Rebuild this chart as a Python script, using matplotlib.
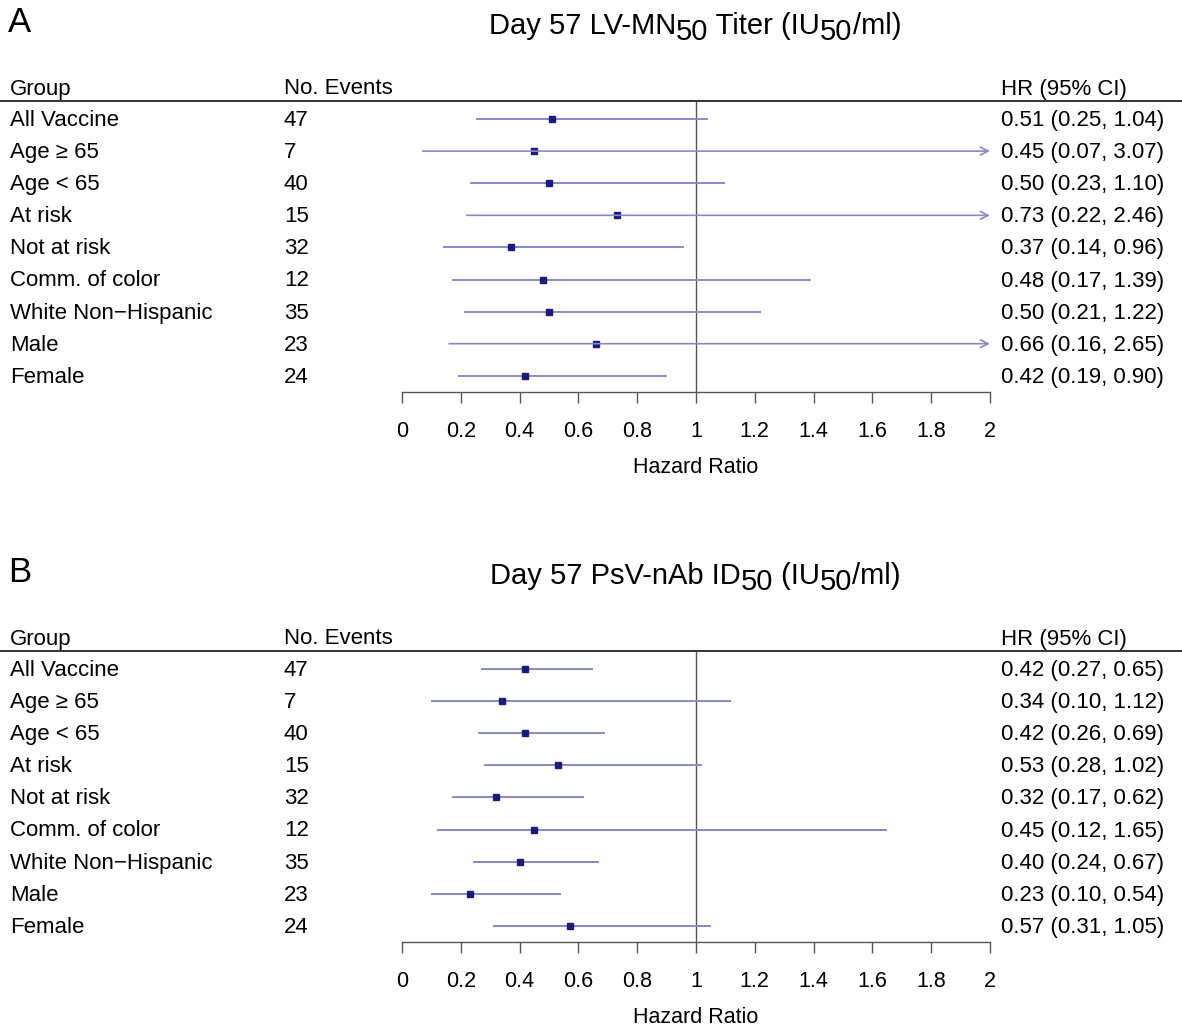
import numpy as np
import matplotlib
matplotlib.use("Agg")
import matplotlib.pyplot as plt
from matplotlib.lines import Line2D

plt.rcParams['font.family'] = ['Liberation Sans', 'DejaVu Sans']

groups = ["All Vaccine", "Age \u2265 65", "Age < 65", "At risk", "Not at risk",
          "Comm. of color", "White Non\u2212Hispanic", "Male", "Female"]
events = [47, 7, 40, 15, 32, 12, 35, 23, 24]

hr_a = [0.51, 0.45, 0.50, 0.73, 0.37, 0.48, 0.50, 0.66, 0.42]
lo_a = [0.25, 0.07, 0.23, 0.22, 0.14, 0.17, 0.21, 0.16, 0.19]
hi_a = [1.04, 3.07, 1.10, 2.46, 0.96, 1.39, 1.22, 2.65, 0.90]

hr_b = [0.42, 0.34, 0.42, 0.53, 0.32, 0.45, 0.40, 0.23, 0.57]
lo_b = [0.27, 0.10, 0.26, 0.28, 0.17, 0.12, 0.24, 0.10, 0.31]
hi_b = [0.65, 1.12, 0.69, 1.02, 0.62, 1.65, 0.67, 0.54, 1.05]

ticks = np.arange(0, 2.01, 0.2)
tick_labels = ["0", "0.2", "0.4", "0.6", "0.8", "1", "1.2", "1.4", "1.6", "1.8", "2"]

W, H = 1182, 1026
fig = plt.figure(figsize=(W / 100, H / 100), dpi=100)

ci_col = "#8a8ac8"
pt_col = "#1c1c78"
fs = 16


def fx(px):
    return px / W


def fy(py):
    return 1 - py / H


def panel(letter, title_parts, hr, lo, hi, top):
    # top = pixel y of the header rule
    row0 = top + 18
    step = 32.1
    axis_y = top + 291
    ax = fig.add_axes([fx(402), fy(axis_y), fx(990) - fx(402), (axis_y - top) / H])
    ax.set_xlim(0, 2)
    # rows sit at 0..8 counting down
    ax.set_ylim((axis_y - row0) / step, -(row0 - top) / step)

    for s in ["left", "top", "right"]:
        ax.spines[s].set_visible(False)
    ax.spines["bottom"].set_color("#555555")
    ax.spines["bottom"].set_linewidth(1.0)
    ax.set_yticks([])
    ax.set_xticks(ticks)
    ax.set_xticklabels(tick_labels, fontsize=15.5)
    ax.tick_params(axis="x", direction="out", length=8, width=1.0, color="#555555", pad=13)
    ax.set_xlabel("Hazard Ratio", fontsize=15.5, labelpad=10.5)

    ax.axvline(1, color="#555555", lw=1.0)

    for i in range(len(hr)):
        y = i
        if hi[i] > 2:
            ax.annotate("", xy=(2, y), xytext=(lo[i], y),
                        arrowprops=dict(arrowstyle="->", color=ci_col, lw=1.2,
                                        shrinkA=0, shrinkB=0, mutation_scale=14))
        else:
            ax.plot([lo[i], hi[i]], [y, y], color=ci_col, lw=1.4, solid_capstyle="butt")
        ax.plot(hr[i], y, marker="s", ms=4.2, color=pt_col, mec=pt_col)

    # header rule across the full width
    fig.add_artist(Line2D([0, 1], [fy(top), fy(top)], color="#333333", lw=1.4))

    hy = fy(top - 12)
    fig.text(fx(10), hy, "Group", fontsize=fs, va="center")
    fig.text(fx(284), hy, "No. Events", fontsize=fs, va="center")
    fig.text(fx(1001), hy, "HR (95% CI)", fontsize=fs, va="center")
    for i in range(len(hr)):
        ry = fy(row0 + i * step + 1.5)
        fig.text(fx(10), ry, groups[i], fontsize=fs, va="center")
        fig.text(fx(284), ry, str(events[i]), fontsize=fs, va="center")
        fig.text(fx(1001), ry, "%.2f (%.2f, %.2f)" % (hr[i], lo[i], hi[i]),
                 fontsize=fs, va="center")

    fig.text(fx(8), fy(top - 78), letter, fontsize=25, va="center")

    # title with full-size lowered subscripts, placed piece by piece
    ty = fy(top - 67)
    pieces = []
    for txt, dy in title_parts:
        pieces.append(fig.text(0, ty - dy / H, txt, fontsize=21, va="baseline"))
    fig.canvas.draw()
    r = fig.canvas.get_renderer()
    widths = [p.get_window_extent(r).width for p in pieces]
    x = 695 - sum(widths) / 2
    for p, w_ in zip(pieces, widths):
        p.set_x(x / W)
        x += w_


panel("A", [("Day 57 LV-MN", 0), ("50", 6), (" Titer (IU", 0), ("50", 6), ("/ml)", 0)],
      hr_a, lo_a, hi_a, 101)
panel("B", [("Day 57 PsV-nAb ID", 0), ("50", 6), (" (IU", 0), ("50", 6), ("/ml)", 0)],
      hr_b, lo_b, hi_b, 651)

fig.savefig("out.png", dpi=100)
